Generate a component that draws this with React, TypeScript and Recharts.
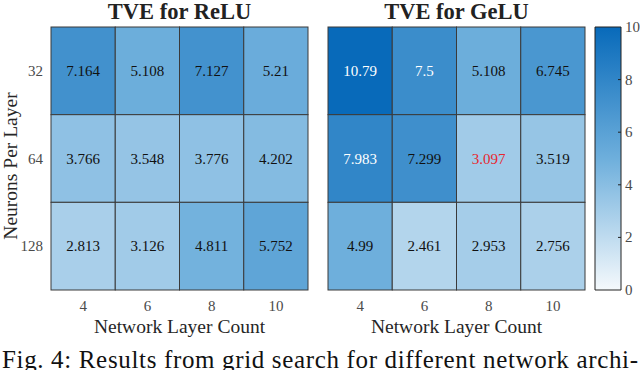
import React from 'react'
import { ScatterChart, Scatter, XAxis, YAxis, BarChart, Bar } from 'recharts'

// grid axes
const LAYER_COUNTS = ['4', '6', '8', '10']
const NEURONS = ['32', '64', '128']

// TVE values, one row per neuron count, one column per layer count
const RELU_32 = [7.164, 5.108, 7.127, 5.21]
const RELU_64 = [3.766, 3.548, 3.776, 4.202]
const RELU_128 = [2.813, 3.126, 4.811, 5.752]
const GELU_32 = [10.79, 7.5, 5.108, 6.745]
const GELU_64 = [7.983, 7.299, 3.097, 3.519]
const GELU_128 = [4.99, 2.461, 2.953, 2.756]

const COLORBAR_TICKS = [0, 2, 4, 6, 8, 10]
// the one cell MATLAB printed in red
const HIGHLIGHT = { grid: 'gelu', neurons: '64', layers: '8' }

const FONT = '"Liberation Serif", "Times New Roman", serif'
const PLOT_W = 257
const PLOT_H = 263
const CELL_W = PLOT_W / LAYER_COUNTS.length
const CELL_H = PLOT_H / NEURONS.length

// colormap stops: value -> rgb
const STOPS: [number, number[]][] = [
  [0, [245, 249, 252]],
  [5, [110, 175, 220]],
  [10, [8, 106, 186]],
]

function colorFor(v: number) {
  const c = Math.max(0, Math.min(10, v))
  let i = 0
  while (i < STOPS.length - 2 && c > STOPS[i + 1][0]) i++
  const [a, ca] = STOPS[i]
  const [b, cb] = STOPS[i + 1]
  const t = (c - a) / (b - a)
  const rgb = ca.map((x, k) => Math.round(x + (cb[k] - x) * t))
  return `rgb(${rgb.join(',')})`
}

function buildCells(name: string, rows: number[][]) {
  const out: { col: number; row: number; value: number; red: boolean }[] = []
  rows.forEach((vals, r) =>
    vals.forEach((value, c) =>
      out.push({
        col: c,
        row: r,
        value,
        red:
          name === HIGHLIGHT.grid &&
          NEURONS[r] === HIGHLIGHT.neurons &&
          LAYER_COUNTS[c] === HIGHLIGHT.layers,
      })
    )
  )
  return out
}

const reluCells = buildCells('relu', [RELU_32, RELU_64, RELU_128])
const geluCells = buildCells('gelu', [GELU_32, GELU_64, GELU_128])

function HeatCell(props: any) {
  const { cx, cy, payload } = props
  const v: number = payload.value
  const textColor = payload.red ? '#e8262e' : v >= 7.4 ? '#ffffff' : '#111111'
  return (
    <g>
      <rect
        x={cx - CELL_W / 2}
        y={cy - CELL_H / 2}
        width={CELL_W}
        height={CELL_H}
        fill={colorFor(v)}
        stroke="#3a3a3a"
        strokeWidth={1}
      />
      <text
        x={cx}
        y={cy}
        dy={5}
        textAnchor="middle"
        fontFamily={FONT}
        fontSize={15}
        fill={textColor}
      >
        {v}
      </text>
    </g>
  )
}

const tickStyle = { fontSize: 15, fill: '#4a4a4a', fontFamily: FONT }

function YTitle() {
  return (
    <text
      x={17}
      y={166}
      transform="rotate(-90 17 166)"
      textAnchor="middle"
      fontFamily={FONT}
      fontSize={19.5}
      fill="#262626"
    >
      Neurons Per Layer
    </text>
  )
}

function Heatmap({ cells, showY, margin }: { cells: any[]; showY: boolean; margin: any }) {
  return (
    <ScatterChart width={320} height={340} margin={margin}>
      <XAxis
        type="number"
        dataKey="col"
        domain={[-0.5, 3.5]}
        ticks={[0, 1, 2, 3]}
        tickFormatter={(i) => LAYER_COUNTS[i]}
        axisLine={false}
        tickLine={false}
        tickMargin={4}
        height={45}
        tick={tickStyle}
        label={{
          value: 'Network Layer Count',
          position: 'insideBottom',
          offset: 2,
          fontSize: 19.5,
          fill: '#262626',
          fontFamily: FONT,
        }}
      />
      <YAxis
        type="number"
        dataKey="row"
        domain={[-0.5, 2.5]}
        ticks={[0, 1, 2]}
        reversed
        hide={!showY}
        width={51}
        tickFormatter={(i) => NEURONS[i]}
        axisLine={false}
        tickLine={false}
        tick={tickStyle}
        label={showY ? { content: () => <YTitle /> } : undefined}
      />
      <Scatter data={cells} shape={HeatCell} isAnimationActive={false} />
    </ScatterChart>
  )
}

function ColorbarTick(props: any) {
  const { x, y, payload } = props
  const edge = x - 4
  return (
    <g>
      {payload.value > 0 && payload.value < 10 && (
        <line x1={edge - 3} x2={edge} y1={y} y2={y} stroke="#222" strokeWidth={1} />
      )}
      <text x={x} y={y} dy={5} textAnchor="start" {...tickStyle}>
        {payload.value}
      </text>
    </g>
  )
}

const colorbarData = [{ v: COLORBAR_TICKS[COLORBAR_TICKS.length - 1] }]

export default function App() {
  return (
    <div
      style={{
        position: 'absolute',
        left: 0,
        top: 0,
        width: 640,
        height: 370,
        background: '#fff',
        overflow: 'hidden',
      }}
    >
      <div style={{ position: 'absolute', left: 0, top: 0 }}>
        <Heatmap cells={reluCells} showY margin={{ top: 27, right: 12, left: 0, bottom: 5 }} />
      </div>
      <div style={{ position: 'absolute', left: 320, top: 0 }}>
        <Heatmap cells={geluCells} showY={false} margin={{ top: 27, right: 55, left: 8, bottom: 5 }} />
      </div>
      <div style={{ position: 'absolute', left: 590, top: 0 }}>
        <BarChart
          width={50}
          height={340}
          data={colorbarData}
          margin={{ top: 27, right: 0, left: 5, bottom: 50 }}
          barCategoryGap={0}
        >
          <defs>
            <linearGradient id="cbGrad" x1="0" y1="1" x2="0" y2="0">
              <stop offset="0%" stopColor={colorFor(0)} />
              <stop offset="50%" stopColor={colorFor(5)} />
              <stop offset="100%" stopColor={colorFor(10)} />
            </linearGradient>
          </defs>
          <XAxis hide />
          <YAxis
            orientation="right"
            width={19}
            domain={[0, 10]}
            ticks={COLORBAR_TICKS}
            axisLine={false}
            tickLine={false}
            tickSize={0}
            tickMargin={4}
            tick={<ColorbarTick />}
          />
          <Bar dataKey="v" fill="url(#cbGrad)" stroke="#222" strokeWidth={1} isAnimationActive={false} />
        </BarChart>
      </div>
      <svg
        width={640}
        height={370}
        style={{ position: 'absolute', left: 0, top: 0, pointerEvents: 'none' }}
      >
        <text x={179.5} y={18.5} textAnchor="middle" fontFamily={FONT} fontWeight="bold" fontSize={22.5} fill="#222">
          TVE for ReLU
        </text>
        <text x={456.5} y={18.5} textAnchor="middle" fontFamily={FONT} fontWeight="bold" fontSize={22.5} fill="#222">
          TVE for GeLU
        </text>
        <text
          x={2}
          y={368}
          fontFamily={FONT}
          fontSize={25}
          fill="#111"
          textLength={636}
          lengthAdjust="spacing"
        >
          Fig. 4: Results from grid search for different network archi-
        </text>
      </svg>
    </div>
  )
}
